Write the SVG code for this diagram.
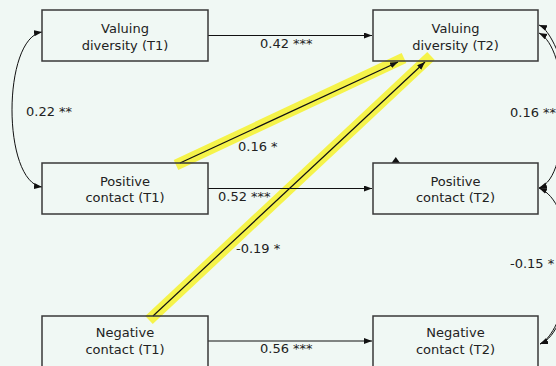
<svg xmlns="http://www.w3.org/2000/svg" width="556" height="366" viewBox="0 0 556 366">
<defs>
<marker id="ah" markerUnits="userSpaceOnUse" markerWidth="9" markerHeight="7" refX="8" refY="3" orient="auto-start-reverse">
<path d="M0,0 L8,3 L0,6 z" fill="#111"/>
</marker>
<style>
.box{fill:none;stroke:#383838;stroke-width:1.5}
.t{font-family:"DejaVu Sans",Verdana,sans-serif;font-size:13px;fill:#222;text-anchor:middle}
.l{font-family:"DejaVu Sans",Verdana,sans-serif;font-size:13px;fill:#222}
.a{fill:none;stroke:#111;stroke-width:1.2;marker-end:url(#ah)}
.c{fill:none;stroke:#111;stroke-width:1;marker-end:url(#ah);marker-start:url(#ah)}
.hl{stroke:#f5f34a;stroke-width:11;fill:none}
</style>
</defs>
<rect width="556" height="366" fill="#f0f8f4"/>
<g id="connectors">
<line class="hl" x1="176" y1="165" x2="404" y2="58"/>
<line class="hl" x1="149" y1="320" x2="431" y2="56"/>
<path class="a" d="M208 35.5 L372 35.5"/>
<path class="a" d="M208 188.5 L372 188.5"/>
<path class="a" d="M208 341 L372 341"/>
<path class="a" d="M180 163 L398 62"/>
<path class="a" d="M153 316 L425 62"/>
<path class="c" d="M42 32 C2 38, 2 182, 42 187"/>
<path class="c" d="M539 25 C556 32, 580 100, 580 185 C580 270, 560 335, 540 344"/>
<path class="c" d="M539 33 C553 40, 563 70, 563 110 C563 150, 556 182, 539 188"/>
<path class="c" d="M539 188 C556 195, 568 220, 568 266 C568 310, 556 338, 540 344"/>
<polygon points="391.5,163 400,163 395.8,157" fill="#111"/>
</g>
<g id="labels">
<text class="l" x="260" y="48">0.42 ***</text>
<text class="l" x="26" y="116">0.22 **</text>
<text class="l" x="238" y="151">0.16 *</text>
<text class="l" x="218" y="201">0.52 ***</text>
<text class="l" x="236" y="253">-0.19 *</text>
<text class="l" x="260" y="353">0.56 ***</text>
<text class="l" x="510" y="117">0.16 **</text>
<text class="l" x="510" y="268">-0.15 *</text>
</g>
<g id="n1"><rect class="box" x="42" y="10" width="166" height="51"/><text class="t" x="125" y="32.5">Valuing</text><text class="t" x="125" y="50">diversity (T1)</text></g>
<g id="n2"><rect class="box" x="373" y="10" width="165" height="51"/><text class="t" x="455.5" y="32.5">Valuing</text><text class="t" x="455.5" y="50">diversity (T2)</text></g>
<g id="n3"><rect class="box" x="42" y="163" width="166" height="51"/><text class="t" x="125" y="185.5">Positive</text><text class="t" x="125" y="202">contact (T1)</text></g>
<g id="n4"><rect class="box" x="373" y="163" width="165" height="51"/><text class="t" x="455.5" y="185.5">Positive</text><text class="t" x="455.5" y="202">contact (T2)</text></g>
<g id="n5"><rect class="box" x="42" y="316" width="166" height="51"/><text class="t" x="125" y="337">Negative</text><text class="t" x="125" y="354">contact (T1)</text></g>
<g id="n6"><rect class="box" x="373" y="316" width="165" height="51"/><text class="t" x="455.5" y="337">Negative</text><text class="t" x="455.5" y="354">contact (T2)</text></g>
</svg>
